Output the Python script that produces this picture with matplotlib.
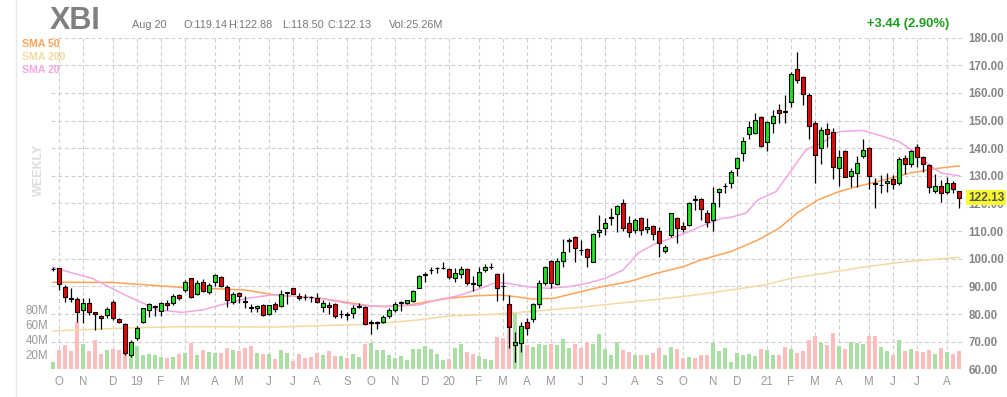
import matplotlib
matplotlib.use("Agg")
import matplotlib.pyplot as plt
from matplotlib.transforms import blended_transform_factory

# weekly candles, Sep 28 2018 .. Aug 20 2021
opens = [96.2, 96.5, 89.9, 85.8, 85.5, 81.5, 83.9, 80.6, 79.3, 79.6, 84.5, 78.1, 76.3, 65.2, 71.2, 77.2, 81.5, 82.6, 81.1, 84.1,
         83.9, 86.9, 88.7, 92.9, 87.1, 91.5, 87.9, 91.7, 93.5, 89.9, 84.2, 87.5, 84.6, 82.7, 82.1, 83.3, 79.9, 83.6, 83.0, 87.6,
         89.3, 86.6, 86.3, 86.3, 85.9, 82.5, 83.3, 83.6, 80.0, 79.9, 80.3, 82.6, 82.6, 76.9, 76.9, 77.2, 79.4, 81.5, 84.0, 84.1,
         84.8, 89.5, 94.2, 96.0, 96.5, 96.7, 96.2, 92.9, 94.4, 96.3, 91.1, 90.5, 95.9, 97.0, 94.4, 90.2, 83.6, 68.9, 69.4, 77.0,
         78.1, 83.5, 91.1, 99.2, 90.9, 99.3, 106.3, 108.0, 103.3, 103.4, 98.9, 109.6, 111.0, 114.9, 116.1, 120.0, 112.8, 110.4, 114.6, 110.6,
         112.0, 110.2, 102.9, 108.6, 114.6, 111.8, 112.2, 121.5, 121.5, 116.4, 114.0, 124.3, 126.2, 127.5, 132.7, 138.1, 145.0, 145.6, 151.2, 142.1,
         149.0, 153.8, 153.4, 156.6, 168.5, 165.6, 159.2, 149.2, 139.9, 146.8, 145.7, 132.7, 139.0, 130.1, 130.9, 137.2, 140.2, 127.4, 126.6, 127.5,
         128.7, 127.5, 136.3, 134.2, 140.6, 136.7, 133.9, 124.6, 126.4, 124.3, 127.3, 124.4]
highs = [97.0, 96.8, 90.5, 89.3, 86.0, 85.9, 85.9, 80.8, 79.6, 82.7, 85.1, 78.7, 76.6, 70.6, 75.8, 82.3, 84.1, 83.3, 84.5, 85.1,
         87.1, 87.1, 92.3, 93.2, 92.3, 92.6, 91.1, 94.4, 93.9, 90.5, 87.8, 88.1, 86.6, 83.5, 83.3, 83.5, 83.3, 84.5, 88.7, 87.8,
         89.5, 87.5, 87.1, 86.5, 87.5, 85.1, 84.5, 83.9, 81.5, 80.6, 83.3, 83.9, 82.9, 77.8, 77.5, 79.6, 82.1, 84.5, 84.7, 84.9,
         88.7, 94.1, 95.3, 97.1, 96.9, 98.7, 96.5, 96.5, 97.5, 96.5, 93.9, 97.1, 98.0, 98.6, 94.7, 94.7, 86.9, 73.6, 77.2, 78.4,
         84.1, 92.3, 97.5, 99.5, 100.1, 107.0, 107.4, 108.2, 106.8, 103.8, 109.2, 115.8, 114.6, 118.2, 119.6, 121.5, 115.5, 114.6, 115.2, 114.6,
         112.2, 111.6, 105.0, 116.7, 115.0, 113.4, 120.7, 123.0, 121.9, 117.6, 125.8, 125.5, 127.5, 132.1, 136.9, 144.2, 150.0, 152.6, 151.6, 150.0,
         153.8, 156.0, 159.2, 167.4, 174.9, 166.1, 159.8, 149.8, 147.6, 149.0, 147.2, 139.3, 139.3, 132.7, 137.2, 143.4, 140.4, 129.1, 130.3, 131.1,
         130.3, 136.7, 137.5, 139.4, 141.4, 137.2, 134.2, 130.5, 128.5, 129.7, 128.3, 124.5]
lows = [95.5, 88.7, 84.2, 84.5, 77.2, 76.6, 79.6, 74.2, 74.6, 78.4, 77.8, 76.6, 65.2, 64.6, 70.6, 76.6, 79.0, 79.3, 79.3, 81.5,
        83.3, 85.1, 88.1, 85.9, 86.9, 88.1, 87.1, 90.3, 89.9, 82.7, 83.5, 84.1, 82.3, 80.6, 80.9, 79.4, 79.6, 80.9, 82.7, 83.5,
        87.1, 85.1, 85.1, 84.5, 83.9, 80.6, 80.0, 78.5, 78.7, 77.8, 78.5, 82.3, 76.0, 72.8, 74.6, 76.6, 78.7, 80.9, 81.1, 83.5,
        84.5, 89.3, 91.7, 94.4, 95.0, 96.2, 92.7, 91.7, 92.9, 90.5, 88.3, 89.9, 95.3, 96.2, 84.8, 85.1, 67.6, 62.8, 66.2, 72.4,
        77.2, 82.1, 90.5, 89.5, 90.5, 97.1, 102.5, 98.9, 101.4, 97.1, 98.7, 108.0, 108.6, 112.2, 109.8, 110.2, 107.8, 109.2, 108.6, 109.2,
        106.8, 100.8, 102.2, 108.0, 105.8, 109.8, 111.8, 117.6, 114.0, 111.6, 110.2, 118.8, 123.7, 125.5, 129.9, 135.5, 143.3, 145.1, 140.3, 139.0,
        145.6, 149.0, 149.0, 155.0, 163.5, 155.6, 143.3, 127.5, 134.3, 140.3, 128.7, 126.3, 129.5, 126.1, 126.1, 136.6, 125.1, 118.2, 123.9, 124.3,
        125.2, 126.6, 130.5, 133.3, 133.3, 131.5, 123.9, 123.9, 120.7, 123.4, 123.9, 118.5]
closes = [96.4, 90.7, 86.3, 85.6, 80.6, 83.9, 80.9, 79.9, 78.4, 81.8, 78.4, 77.2, 65.8, 70.0, 75.1, 82.0, 83.5, 82.8, 83.9, 83.3,
          86.6, 85.7, 91.7, 86.3, 91.4, 88.4, 90.5, 94.1, 90.3, 85.1, 87.1, 86.4, 84.4, 82.3, 82.9, 79.7, 83.1, 81.8, 87.1, 87.8,
          87.4, 85.7, 86.1, 86.1, 84.2, 84.1, 82.5, 79.4, 80.1, 79.7, 82.3, 82.9, 76.3, 77.1, 77.2, 78.9, 81.5, 83.5, 84.2, 84.9,
          88.3, 93.7, 94.5, 96.1, 96.6, 96.8, 93.5, 94.7, 96.3, 91.1, 90.9, 95.3, 97.1, 97.1, 89.3, 90.0, 75.4, 69.7, 75.8, 74.8,
          83.5, 91.3, 96.9, 91.1, 99.3, 102.5, 106.6, 103.8, 103.1, 100.5, 108.8, 110.4, 112.8, 115.1, 119.1, 111.0, 109.6, 114.0, 110.4, 111.4,
          108.8, 105.6, 104.4, 116.4, 111.0, 110.6, 120.3, 121.2, 117.9, 113.2, 120.0, 125.1, 126.4, 131.5, 136.3, 142.6, 147.5, 150.2, 140.9, 149.6,
          151.8, 152.9, 153.0, 166.7, 164.7, 159.6, 148.1, 137.7, 146.6, 145.0, 133.3, 136.9, 129.7, 131.7, 134.5, 139.3, 129.9, 127.2, 126.8, 128.1,
          127.0, 136.1, 134.2, 138.8, 136.9, 134.3, 125.8, 126.4, 123.7, 127.3, 125.1, 122.13]
volume_m = [9.7, 25.7, 32.4, 24.4, 63.5, 33.7, 24.4, 39.1, 20.0, 25.7, 26.6, 25.7, 31.1, 30.2, 31.1, 19.0, 20.0, 19.0, 16.8, 14.6,
            16.8, 20.4, 22.2, 35.5, 19.0, 25.7, 23.5, 21.3, 22.2, 28.8, 25.7, 24.4, 28.8, 31.5, 22.2, 20.0, 20.4, 13.7, 25.7, 21.3,
            11.1, 20.4, 14.6, 16.4, 22.2, 19.1, 24.4, 18.2, 17.7, 15.1, 20.4, 16.4, 33.7, 35.5, 25.7, 25.7, 19.1, 14.6, 17.7, 12.4,
            26.6, 26.6, 31.1, 26.6, 19.9, 12.4, 13.7, 28.8, 33.7, 22.6, 19.9, 17.7, 13.3, 12.4, 43.5, 42.2, 80.0, 74.6, 42.2, 32.4,
            29.3, 33.7, 32.4, 33.3, 32.4, 40.4, 28.8, 33.7, 28.8, 36.8, 33.7, 47.1, 26.6, 19.1, 36.8, 25.7, 23.5, 19.1, 19.1, 19.1,
            21.3, 28.8, 19.1, 30.2, 26.6, 15.5, 16.8, 15.5, 19.1, 19.1, 35.5, 24.8, 27.9, 9.8, 21.7, 19.0, 20.4, 17.7, 27.1, 25.7,
            19.0, 19.0, 29.7, 27.1, 21.7, 24.4, 39.1, 44.4, 35.1, 32.4, 48.4, 31.1, 27.1, 36.8, 35.1, 34.2, 44.4, 44.4, 29.7, 24.4,
            19.0, 39.1, 24.4, 27.1, 24.4, 23.1, 25.7, 20.4, 28.4, 23.1, 20.4, 24.4]

# moving averages (week index, value)
sma20_idx = [0, 6.5, 12, 17.5, 21.5, 25, 28, 32.5, 36.5, 44.5, 50.5, 54.5, 58.5, 61, 64, 67.5, 70.5, 74, 76, 79,
             82.5, 86, 89, 92, 95, 97.5, 100.5, 103, 106, 108.5, 111.5, 113, 115.5, 117.5, 120.5, 122.5, 125.5, 128.5, 131,
             135, 137.5, 141, 143.5, 146, 148, 151]
sma20_val = [96.8, 92.9, 86.9, 81.5, 80.6, 81.5, 83.3, 85.7, 86.9, 85.7, 83.3, 82.7, 83.0, 83.3, 85.1, 86.6, 88.7, 91.5, 91.0, 89.9,
             89.3, 89.9, 91.1, 92.9, 95.9, 102.0, 105.6, 107.4, 109.8, 112.2, 114.6, 115.0, 116.5, 121.3, 124.3, 130.3, 139.4, 142.4, 146.0,
             146.4, 144.8, 142.4, 138.8, 134.0, 131.0, 130.0]
sma50_idx = [0, 10, 21, 32, 37, 44.5, 53, 55.5, 59.5, 62.5, 66, 70.5, 74.5, 77, 80, 83.5, 88, 91.5, 96, 100.5,
             105, 108, 113, 117.5, 121, 124, 127.5, 131, 134, 138.5, 143, 147.5, 151]
sma50_val = [91.5, 91.4, 89.7, 88.7, 86.9, 85.7, 82.9, 82.7, 83.3, 84.5, 85.7, 86.6, 86.9, 86.3, 85.4, 85.7, 88.1, 89.9, 91.7, 94.7,
             97.1, 99.6, 102.6, 106.8, 111.0, 116.5, 121.3, 124.3, 126.1, 128.5, 131.1, 132.7, 133.6]
sma200_idx = [0, 13, 21, 37, 48, 53, 61, 66, 74.5, 81, 89, 97, 105, 113, 118.5, 123, 128.5, 135.5, 142, 151]
sma200_val = [73.9, 75.0, 75.4, 75.3, 76.0, 76.3, 77.9, 79.3, 80.0, 81.2, 82.7, 84.5, 86.3, 88.7, 90.5, 92.9, 94.7, 97.1, 98.9, 100.5]

month_idx = [1, 5, 10, 14, 18, 22, 27, 31, 36, 40, 44, 49, 53, 57, 62, 66, 71, 75, 79, 83, 88, 92, 97, 101,
             105, 110, 114, 119, 123, 127, 131, 136, 140, 144, 149]
month_labels = ["O", "N", "D", "19", "F", "M", "A", "M", "J", "J", "A", "S", "O", "N", "D", "20", "F", "M", "A",
                "M", "J", "J", "A", "S", "O", "N", "D", "21", "F", "M", "A", "M", "J", "J", "A"]
price_ticks = [60, 70, 80, 90, 100, 110, 120, 130, 140, 150, 160, 170, 180]
vol_ticks = [20, 40, 60, 80]

plt.rcParams['font.family'] = ['Liberation Sans', 'DejaVu Sans']

W, H = 1007, 397
fig = plt.figure(figsize=(W / 100, H / 100), dpi=100)
left, right, top, bottom = 51, 962, 37.6, 369.3
axv = fig.add_axes([left / W, 1 - bottom / H, (right - left) / W, (bottom - top) / H])
ax = axv.twinx()
for a in (axv, ax):
    a.patch.set_visible(False)
    for s in a.spines.values():
        s.set_visible(False)

n = len(closes)
xs = list(range(n))
axv.set_xlim(-1 / 3, 151.5)
axv.set_ylim(0, (bottom - top) / 0.75)
ax.set_ylim(60, 180)

grid_kw = dict(color="#cfcfcf", lw=0.8, dashes=(3.5, 2.5), zorder=0)
tr = blended_transform_factory(axv.transAxes, ax.transData)
for p in price_ticks[1:]:
    axv.plot([0, 1], [p, p], transform=tr, **grid_kw)
for m in month_idx:
    axv.axvline(m, **grid_kw)

# volume
up = [c >= o for o, c in zip(opens, closes)]
vcol = ["#a9dfa2" if u else "#fdbdbd" for u in up]
axv.bar(xs, volume_m, width=0.74, color=vcol, zorder=1)

# moving averages
ax.plot(sma200_idx, sma200_val, color="#f3dba0", lw=1.1, zorder=2)
ax.plot(sma50_idx, sma50_val, color="#ffa35a", lw=1.1, zorder=2)
ax.plot(sma20_idx, sma20_val, color="#f3a6e2", lw=1.1, zorder=2)

# candles
ax.vlines(xs, lows, highs, color="black", lw=0.9, zorder=3)
ccol = ["#1ee21e" if u else "#f00000" for u in up]
ax.bar(xs, [abs(c - o) for o, c in zip(opens, closes)], bottom=[min(o, c) for o, c in zip(opens, closes)],
       width=0.6, color=ccol, edgecolor="black", linewidth=0.8, zorder=4)

# axes labels
axv.set_xticks(month_idx)
axv.set_xticklabels(month_labels)
axv.set_yticks(vol_ticks)
axv.set_yticklabels([f"{v}M" for v in vol_ticks])
ax.set_yticks(price_ticks)
ax.set_yticklabels([f"{p:.2f}" for p in price_ticks])
axv.tick_params(axis="x", length=0, pad=5, labelsize=8.3, labelcolor="#9a9a9a")
axv.tick_params(axis="y", length=0, pad=2, labelsize=8.3, labelcolor="#9a9a9a")
ax.tick_params(axis="y", length=0, pad=4.5, labelsize=8.3, labelcolor="#858585")
for t in ax.get_yticklabels():
    t.set_fontweight("bold")

# last price tag
ax.text(1.0068, closes[-1], f"{closes[-1]:.2f}", transform=tr, ha="left", va="center", fontsize=8.6,
        fontweight="bold", color="#555555", zorder=6,
        bbox=dict(boxstyle="square,pad=0.15", fc="#fafa30", ec="none"))

# header
def px(x, y):
    return x / W, 1 - y / H

fig.add_artist(plt.Line2D([15.5 / W, 15.5 / W], [0, 1], color="#e8e8e8", lw=1))
fig.text(*px(50, 29.3), "XBI", fontsize=22, fontweight="bold", color="#808080", va="baseline")
hdr = [(132, "Aug 20"), (184, "O:119.14"), (228, "H:122.88"), (282, "L:118.50"), (328, "C:122.13"), (389, "Vol:25.26M")]
for x, s in hdr:
    fig.text(*px(x, 25), s, fontsize=7.8, color="#777777", va="center")
fig.text(*px(949, 24.5), "+3.44 (2.90%)", fontsize=9.4, fontweight="bold", color="#1c9e1c", ha="right", va="center")
legend = [("SMA 50", "#ffa35a", 44), ("SMA 200", "#f3dba0", 57), ("SMA 20", "#f3a6e2", 70)]
for s, c, y in legend:
    fig.text(*px(22.5, y), s, fontsize=7.6, fontweight="bold", color=c, va="center")
fig.text(*px(39, 170), "WEEKLY", fontsize=9, fontweight="bold", color="#dedede", rotation=90, ha="center", va="center")

fig.savefig("out.png", dpi=100)
